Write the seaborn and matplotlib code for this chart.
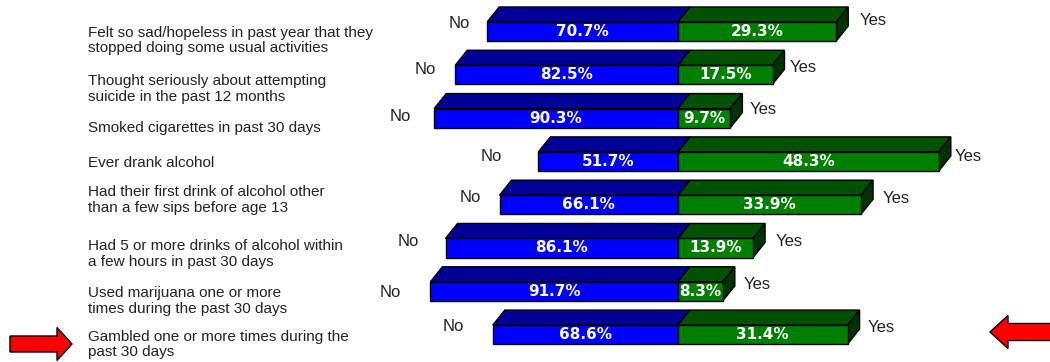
import numpy as np
import pandas as pd
import matplotlib
matplotlib.use("Agg")
import matplotlib.pyplot as plt
import seaborn as sns
from matplotlib.patches import Polygon, FancyArrow

# ---------------- data ----------------
categories = [
    "Felt so sad/hopeless in past year that they\nstopped doing some usual activities",
    "Thought seriously about attempting\nsuicide in the past 12 months",
    "Smoked cigarettes in past 30 days",
    "Ever drank alcohol",
    "Had their first drink of alcohol other\nthan a few sips before age 13",
    "Had 5 or more drinks of alcohol within\na few hours in past 30 days",
    "Used marijuana one or more\ntimes during the past 30 days",
    "Gambled one or more times during the\npast 30 days",
]
no_pct = [70.7, 82.5, 90.3, 51.7, 66.1, 86.1, 91.7, 68.6]
yes_pct = [29.3, 17.5, 9.7, 48.3, 33.9, 13.9, 8.3, 31.4]
no_word = "No"
yes_word = "Yes"

# ---------------- style / layout ----------------
NO_SCALE = 0.5          # the original draws the "No" side at half the scale of "Yes"
BLUE, BLUE_TOP = "#0000FF", "#000099"
GREEN, GREEN_TOP, GREEN_SIDE = "#008000", "#005200", "#003300"
DEPTH_PX = (12, 15)     # 3-D depth offset in pixels (right, up)
label_shift_px = [9, 14, 10, 2, -5, 6, 10, 10]       # category label offset below bar centre
no_gap_px = [17, 19, 23, 36, 19, 27, 29, 29]          # gap between "No" and bar
no_rise_px = [8, 5, 2, 4.5, 7, 6, -1.5, 8.5]
yes_gap_px = [23, 17.5, 19, 16, 22, 23, 21, 20]       # gap between bar front and "Yes"
yes_rise_px = [11, 7, 9, 4.5, 6, 6, 6.5, 7.5]

sns.set_style("white")
plt.rcParams["font.family"] = ["Liberation Sans", "DejaVu Sans"]

W, H = 1050, 362
fig = plt.figure(figsize=(W / 100, H / 100), dpi=100)
ax = fig.add_axes([0, 0, 1, 1])

df = pd.DataFrame({
    "cat": categories,
    "no": -np.array(no_pct) * NO_SCALE,
    "yes": np.array(yes_pct),
})

sns.barplot(data=df, y="cat", x="no", order=categories, color=BLUE, saturation=1,
            width=0.44, edgecolor="black", linewidth=1, errorbar=None, ax=ax, zorder=3)
sns.barplot(data=df, y="cat", x="yes", order=categories, color=GREEN, saturation=1,
            width=0.44, edgecolor="black", linewidth=1, errorbar=None, ax=ax, zorder=3)

px_per_x = 5.4
px_per_row = 43.3
first_center_px = 31.5
x0_px = 678
ax.set_xlim(-x0_px / px_per_x, (W - x0_px) / px_per_x)
ax.set_ylim(7 + (H - (first_center_px + 7 * px_per_row)) / px_per_row,
            -first_center_px / px_per_row)
ax.axis("off")

ddx = DEPTH_PX[0] / px_per_x
ddy = DEPTH_PX[1] / px_per_row

for p in list(ax.patches):
    x, w = p.get_x(), p.get_width()
    y, h = p.get_y(), p.get_height()
    left, right = min(x, x + w), max(x, x + w)
    top = y                      # inverted axis: smaller y is visually the top
    bot = y + h
    is_yes = (x + w) > 0
    top_face = Polygon([(left, top), (right, top), (right + ddx, top - ddy), (left + ddx, top - ddy)],
                       closed=True, fc=GREEN_TOP if is_yes else BLUE_TOP, ec="black", lw=1, zorder=2)
    ax.add_patch(top_face)
    if is_yes:
        side = Polygon([(right, top), (right + ddx, top - ddy), (right + ddx, bot - ddy), (right, bot)],
                       closed=True, fc=GREEN_SIDE, ec="black", lw=1, zorder=2)
        ax.add_patch(side)

for i, cat in enumerate(categories):
    nv = -no_pct[i] * NO_SCALE
    yv = yes_pct[i]
    ax.text(nv / 2, i, f"{no_pct[i]:.1f}%", color="white", fontweight="bold", fontsize=11,
            ha="center", va="center", family="DejaVu Sans", zorder=5)
    ax.text(yv / 2, i, f"{yes_pct[i]:.1f}%", color="white", fontweight="bold", fontsize=11,
            ha="center", va="center", family="DejaVu Sans", zorder=5)
    ax.annotate(no_word, xy=(nv, i), xytext=(-no_gap_px[i], no_rise_px[i]), textcoords="offset pixels",
                ha="right", va="center", fontsize=12, color="#222222")
    ax.annotate(yes_word, xy=(yv, i), xytext=(yes_gap_px[i], yes_rise_px[i]), textcoords="offset pixels",
                ha="left", va="center", fontsize=12, color="#222222")
    ax.annotate(cat, xy=(88 / W, i), xycoords=("figure fraction", "data"),
                xytext=(0, -label_shift_px[i]), textcoords="offset pixels",
                ha="left", va="center", fontsize=11, color="#222222", linespacing=1.15)

# red arrows (overlay in pixel coordinates)
ov = fig.add_axes([0, 0, 1, 1], zorder=10)
ov.set_xlim(0, W)
ov.set_ylim(H, 0)
ov.axis("off")
ov.patch.set_alpha(0)
ov.add_patch(FancyArrow(10, 344, 62, 0, width=16, head_width=33, head_length=15,
                        length_includes_head=True, fc="#FF0000", ec="black", lw=1))
ov.add_patch(FancyArrow(1055, 332, -65, 0, width=17, head_width=33, head_length=18,
                        length_includes_head=True, fc="#FF0000", ec="black", lw=1))

fig.savefig("out.png", dpi=100)
